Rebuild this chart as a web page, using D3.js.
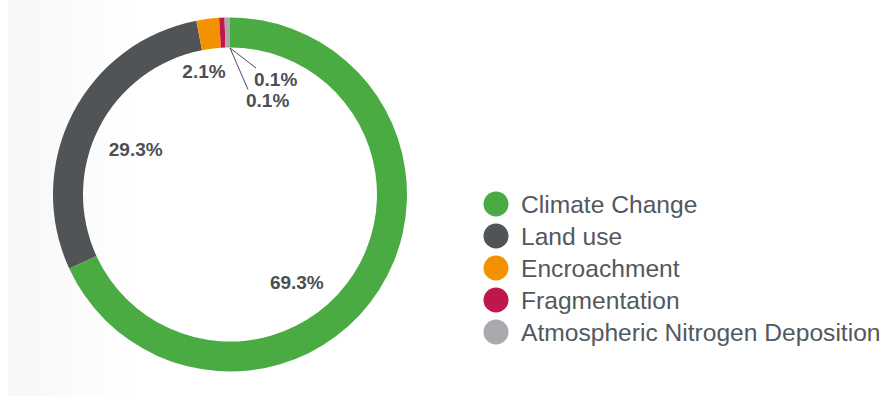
<!DOCTYPE html>
<html>
<head>
<meta charset="utf-8">
<script src="https://cdn.jsdelivr.net/npm/d3@7"></script>
<style>
  html, body { margin: 0; padding: 0; background: #fff; }
  svg { display: block; font-family: "Liberation Sans", Arial, sans-serif; }
</style>
</head>
<body>
<svg id="chart" width="888" height="396"></svg>
<script>
// data
var categories = ["Climate Change", "Land use", "Encroachment", "Fragmentation", "Atmospheric Nitrogen Deposition"]
var shares = [69.3, 29.3, 2.1, 0.1, 0.1]
var colors = ["#4aab43", "#505457", "#f39200", "#c0174a", "#a8aaad"]

var width = 888
var height = 396
var cx = 230, cy = 194.5
var outerR = 177, innerR = 147
var minSlice = 0.5   // tiny slices still get a visible sliver
var labelR = 115
var textColor = "#4b5056"

// label nudges from arc centroid (big slices)
var labelNudge = [[-30, 25.5], [8, 6.5], [-11.5, -9]]
// leader line ends for tiny slices, relative to the leader start
var leaderEnd = { 3: [18, 41.5], 4: [26, 20] }

var svg = d3.select("#chart")

// faint backdrop like the screenshot
var grad = svg.append("defs").append("linearGradient").attr("id", "bg")
grad.append("stop").attr("offset", "0%").attr("stop-color", "#f7f7f7")
grad.append("stop").attr("offset", "14%").attr("stop-color", "#ffffff")
svg.append("rect").attr("x", 8).attr("y", 0).attr("width", width - 8).attr("height", height).attr("fill", "url(#bg)")

var data = categories.map(function (c, i) { return { name: c, value: shares[i], color: colors[i], i: i } })

var pie = d3.pie()
    .sort(null)
    .value(function (d) { return Math.max(d.value, minSlice) })

var arc = d3.arc().innerRadius(innerR).outerRadius(outerR)
var labelArc = d3.arc().innerRadius(labelR).outerRadius(labelR)

var g = svg.append("g").attr("transform", "translate(" + cx + "," + cy + ")")
var arcs = pie(data)

g.selectAll("path.slice")
    .data(arcs)
    .enter()
    .append("path")
    .attr("class", "slice")
    .attr("d", arc)
    .attr("fill", function (d) { return d.data.color })

// labels inside the ring
arcs.forEach(function (d, i) {
    var txt = d.data.value.toFixed(1) + "%"
    if (labelNudge[i]) {
        var c = labelArc.centroid(d)
        g.append("text")
            .attr("x", c[0] + labelNudge[i][0])
            .attr("y", c[1] + labelNudge[i][1] + 7)
            .attr("text-anchor", "middle")
            .attr("font-size", 19)
            .attr("font-weight", "bold")
            .attr("fill", textColor)
            .text(txt)
    } else {
        var start = d3.pointRadial(2 * Math.PI, innerR - 0.5)
        var off = leaderEnd[i]
        var end = [start[0] + off[0], start[1] + off[1]]
        g.append("line")
            .attr("x1", start[0]).attr("y1", start[1])
            .attr("x2", end[0]).attr("y2", end[1])
            .attr("stroke", textColor)
            .attr("stroke-width", 1)
        g.append("text")
            .attr("x", end[0] - 2)
            .attr("y", end[1] + 17.5)
            .attr("font-size", 19)
            .attr("font-weight", "bold")
            .attr("fill", textColor)
            .text(txt)
    }
})

// legend
var yLeg = d3.scalePoint().domain(categories).range([204, 332])
var legend = svg.append("g")
var items = legend.selectAll("g")
    .data(data)
    .enter()
    .append("g")
    .attr("transform", function (d) { return "translate(496," + yLeg(d.name) + ")" })
items.append("circle").attr("r", 12.5).attr("fill", function (d) { return d.color })
items.append("text")
    .attr("x", 25)
    .attr("y", 8.5)
    .attr("font-size", 24.6)
    .attr("fill", "#53585d")
    .text(function (d) { return d.name })
</script>
</body>
</html>
